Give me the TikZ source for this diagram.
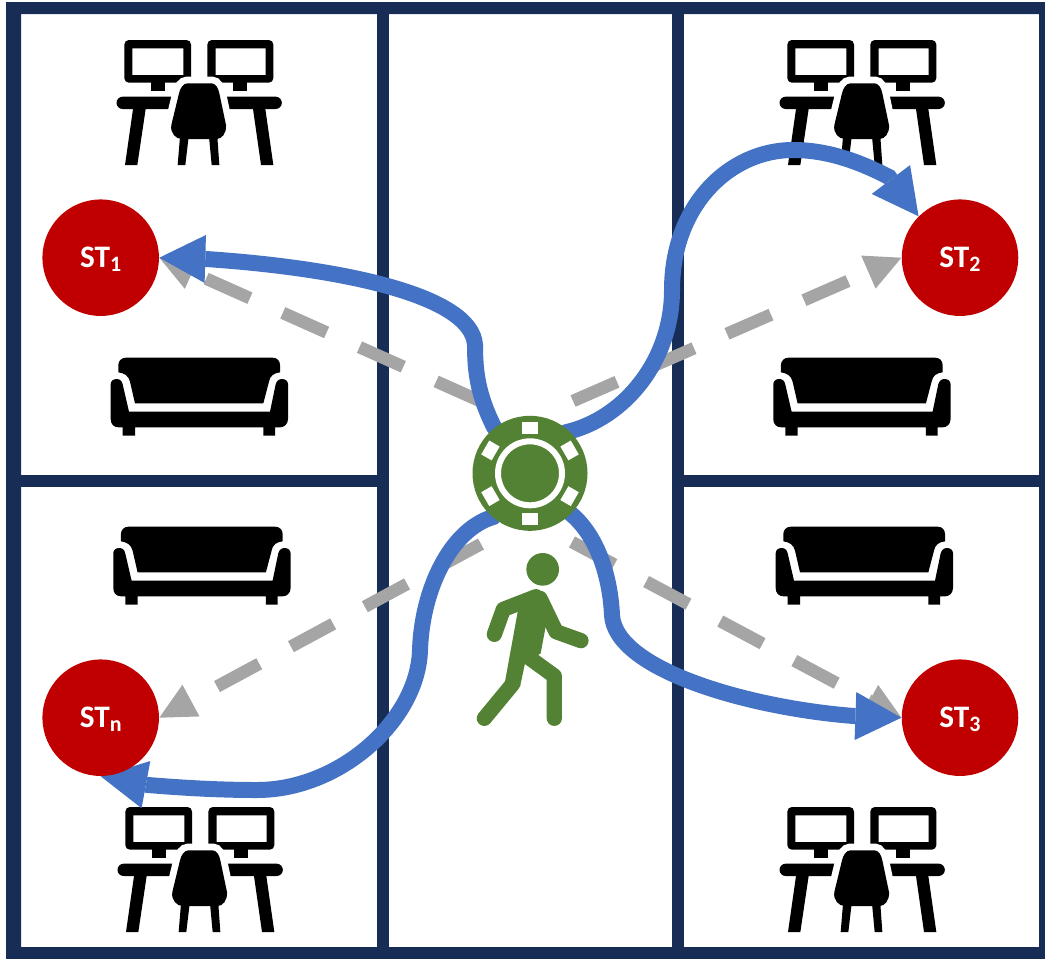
\documentclass[tikz,border=0pt]{standalone}
\usepackage{fontspec}
\setmainfont{Carlito}
\usetikzlibrary{arrows.meta, backgrounds}
\definecolor{wallnavy}{RGB}{23,45,85}
\definecolor{linkblue}{RGB}{68,114,196}
\definecolor{linkgray}{RGB}{165,165,165}
\definecolor{chipgreen}{RGB}{84,130,53}
\definecolor{stred}{RGB}{192,0,0}
\newcommand{\stlabel}[1]{\fontsize{17.8}{20}\selectfont\bfseries ST\smash{\raisebox{-1.8pt}{\fontsize{12.5}{14}\selectfont #1}}}

\begin{document}
\begin{tikzpicture}[x=0.2mm, y=-0.2mm,
    wall/.style={wallnavy, line width=2.4mm},
    station/.style={circle, fill=stred, text=white, minimum size=23.3mm, inner sep=0pt},
    chipdisc/.style={circle, fill=chipgreen, minimum size=23mm, inner sep=0pt},
    bluelink/.style={linkblue, line width=3.2mm, {-{Triangle[length=9.2mm, width=9.6mm, line width=0pt]}}},
    graylink/.style={linkgray, line width=2.5mm, dash pattern=on 9.6mm off 7.2mm, {-{Triangle[length=7.2mm, width=7.2mm, line width=0pt]}}},
    limb/.style={chipgreen, line width=3.05mm, line cap=round, line join=round},
    desk/.pic={
        \begin{scope}[scale=1/3]
        % monitors
        \fill[black, even odd rule, rounded corners=0.9mm] (73,30) rectangle (273,158) (97,55) [sharp corners] rectangle (250,135);
        \fill[black, even odd rule, rounded corners=0.9mm] (322,30) rectangle (520,158) (347,55) [sharp corners] rectangle (497,135);
        \fill[black] (153,150) rectangle (195,183);
        \fill[black] (400,150) rectangle (442,183);
        % tables
        \fill[black] (68,200) -- (230,200) -- (230,237) -- (68,237) arc (90:270:18.5);
        \fill[black] (365,200) -- (527,200) arc (-90:90:18.5) -- (365,237) -- cycle;
        \fill[black] (100,230) -- (138,230) -- (112,405) -- (75,405) -- cycle;
        \fill[black] (458,230) -- (495,230) -- (520,405) -- (483,405) -- cycle;
        % chair
        \fill[black, preaction={draw=white, line width=2.7mm}] (262,160) -- (335,160) .. controls (347,160) and (355,175) .. (358,190) -- (378,285) .. controls (380,310) and (365,327) .. (350,327)
            -- (245,327) .. controls (228,327) and (210,310) .. (214,285) -- (237,190) .. controls (240,175) and (250,160) .. (262,160) -- cycle;
        \fill[black] (240,320) -- (266,320) -- (256,405) -- (233,405) -- cycle;
        \fill[black] (327,320) -- (352,320) -- (358,405) -- (335,405) -- cycle;
        \end{scope}
    },
    sofa/.pic={
        \begin{scope}[scale=1/3]
        % back rest
        \fill[black] (78,38) -- (517,38) .. controls (532,38) and (540,48) .. (540,60) -- (540,82)
            .. controls (522,84) and (510,92) .. (507,110) -- (490,175) -- (105,175) -- (90,110)
            .. controls (86,92) and (72,84) .. (55,82) -- (55,60) .. controls (55,48) and (64,38) .. (78,38) -- cycle;
        % seat and arms
        \fill[black] (32,118) .. controls (32,108) and (40,102) .. (50,102) .. controls (60,102) and (66,108) .. (68,118)
            -- (87,200) -- (510,200) -- (527,118) .. controls (530,108) and (536,102) .. (546,102) .. controls (556,102) and (564,108) .. (564,118)
            -- (564,222) .. controls (564,238) and (552,247) .. (540,247) -- (525,247) -- (525,272) -- (490,272) -- (490,247)
            -- (105,247) -- (105,272) -- (68,272) -- (68,247) -- (56,247) .. controls (42,247) and (32,238) .. (32,222) -- cycle;
        \end{scope}
    },
    walker/.pic={
        \begin{scope}[scale=1/3]
        \fill[chipgreen] (278,508) circle (49);
        \draw[limb] (133,703) -- (160,628) -- (258,590);
        \draw[limb] (270,595) -- (318,695) -- (393,722);
        \fill[chipgreen] (205,625) -- (258,568) -- (300,610) -- (272,760) -- (225,790) -- (210,860) -- (165,845) -- cycle;
        \draw[limb] (240,775) -- (313,828) -- (313,955);
        \draw[limb] (188,852) -- (103,955);
        \end{scope}
    }
]
\useasboundingbox (0,0) rectangle (1045,958);

% Stations
\node[station] (st1) at (100.7,257.7) {\stlabel{1}};
\node[station] (st2) at (960,257.7) {\stlabel{2}};
\node[station] (st3) at (960,717.7) {\stlabel{3}};
\node[station] (stn) at (100.7,717.7) {\stlabel{n}};

% Chip
\node[chipdisc] (chip) at (530,473.3) {};
\draw[white, line width=1.2mm] (chip) circle (32);
\foreach \a in {0,60,...,300}
    \fill[white, shift={(chip)}, rotate=\a] (-8,-51.7) rectangle (8,-39.7);

% Person
\pic at (450,400) {walker};

% Free ends of the gray links
\coordinate (g1) at (480,401);
\coordinate (g2) at (573,401);
\coordinate (g3) at (572,542);
\coordinate (gn) at (481,544);

\begin{scope}[on background layer]
% Walls
\fill[wallnavy, even odd rule] (6,2) rectangle (1050,963) (21,14) rectangle (1039,947);
\draw[wall] (383,8) -- (383,950);
\draw[wall] (677.5,8) -- (677.5,950);
\draw[wall] (15,481) -- (383,481);
\draw[wall] (677.5,481) -- (1042,481);

% Furniture
\pic at (100,30) {desk};
\pic at (763,30) {desk};
\pic at (101,797) {desk};
\pic at (763,797) {desk};
\pic at (100,345) {sofa};
\pic at (762.6,345) {sofa};
\pic at (102.6,514) {sofa};
\pic at (765,514) {sofa};

% Gray links
\draw[graylink] (g1) -- (st1.east);
\draw[graylink] (g2) -- (st2.west);
\draw[graylink] (g3) -- (st3.west);
\draw[graylink] (gn) -- (stn.east);

% Blue links
\draw[bluelink] (chip.center) -- (494,427) .. controls (478,395) and (475,372) .. (475,345)
    .. controls (472,295) and (340,268) .. (206,259) -- (st1.east);
\draw[bluelink] (chip.center) -- (567,432) .. controls (625,418) and (672,360) .. (672,290)
    .. controls (672,205) and (730,150) .. (793,150) .. controls (828,150) and (860,162) .. (889,177) -- (st2.135);
\draw[bluelink] (chip.center) -- (570,513) .. controls (597,535) and (610,575) .. (612,615)
    .. controls (615,670) and (750,708) .. (854,716) -- (st3.west);
\draw[bluelink] (chip.center) -- (493,517) .. controls (450,530) and (422,590) .. (420,650)
    .. controls (418,720) and (340,790) .. (257,790) .. controls (220,790) and (185,788) .. (148,785) -- (stn.south);
\end{scope}
\end{tikzpicture}
\end{document}
